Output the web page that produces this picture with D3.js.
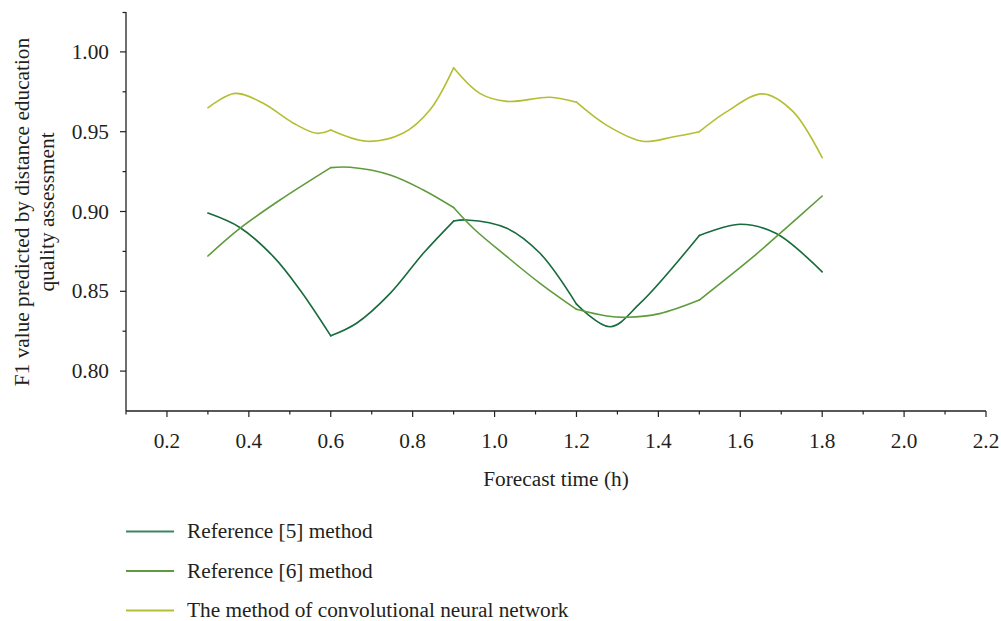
<!DOCTYPE html>
<html>
<head>
<meta charset="utf-8">
<script src="https://cdn.jsdelivr.net/npm/d3@7/dist/d3.min.js"></script>
<style>
  html, body { margin: 0; padding: 0; background: #fff; }
  svg { display: block; }
  text { font-family: "Liberation Serif", "DejaVu Serif", serif; fill: #231f20; font-size: 21.3px; }
</style>
</head>
<body>
<svg id="chart" width="1001" height="621"></svg>
<script>
// Forecast times where each method was evaluated (segment joints)
const knots = [0.3, 0.6, 0.9, 1.2, 1.5, 1.8];

// Sampled F1 values along each fitted curve: [forecast time (h), F1]
const ref5Values = [
  [0.3, 0.899], [0.378, 0.890], [0.46, 0.8717], [0.525, 0.8508], [0.6, 0.8221],
  [0.663, 0.830], [0.745, 0.8487], [0.826, 0.8738], [0.9, 0.894],
  [0.932, 0.8947], [1.03, 0.8895], [1.111, 0.8738], [1.2, 0.8420],
  [1.282, 0.8278], [1.355, 0.8424], [1.5, 0.885],
  [1.599, 0.892], [1.688, 0.8862], [1.8, 0.8622]
];
const ref6Values = [
  [0.3, 0.8721], [0.378, 0.8894], [0.476, 0.9072], [0.6, 0.9275],
  [0.647, 0.9277], [0.745, 0.9229], [0.826, 0.9135], [0.9, 0.9025],
  [0.948, 0.8895], [1.03, 0.8717], [1.111, 0.855], [1.2, 0.8387],
  [1.274, 0.8345], [1.323, 0.8337], [1.403, 0.836], [1.5, 0.8445],
  [1.632, 0.8717], [1.697, 0.8863], [1.8, 0.9097]
];
const cnnValues = [
  [0.3, 0.965], [0.366, 0.974], [0.434, 0.968], [0.508, 0.9555], [0.566, 0.949], [0.6, 0.951],
  [0.688, 0.944], [0.776, 0.949], [0.842, 0.9636], [0.9, 0.990],
  [0.964, 0.974], [1.03, 0.969], [1.135, 0.9716], [1.2, 0.9685],
  [1.274, 0.954], [1.362, 0.944], [1.435, 0.9467], [1.5, 0.950],
  [1.567, 0.9626], [1.655, 0.9737], [1.729, 0.9626], [1.8, 0.9337]
];

const seriesNames = ["Reference [5] method", "Reference [6] method", "The method of convolutional neural network"];
const seriesColors = ["#176b3d", "#5f9b3c", "#b4be33"];
const legendColors = ["#3f8462", "#5f9b3c", "#b4be33"];

const xTicks = [0.2, 0.4, 0.6, 0.8, 1.0, 1.2, 1.4, 1.6, 1.8, 2.0, 2.2];
const yTicks = [0.80, 0.85, 0.90, 0.95, 1.00];
const xLabel = "Forecast time (h)";
const yLabelLines = ["F1 value predicted by distance education", "quality assessment"];

const svg = d3.select("#chart");
const x = d3.scaleLinear().domain([0.1, 2.2]).range([126, 986]);
const y = d3.scaleLinear().domain([0.775, 1.025]).range([411, 12]);

// Axes
const axisColor = "#231f20";
const xAxis = svg.append("g").attr("transform", "translate(0,411)");
xAxis.append("line").attr("x1", 126).attr("x2", 986).attr("stroke", axisColor).attr("stroke-width", 1.3);
d3.range(0.1, 2.2001, 0.1).forEach((t, i) => {
  const major = i % 2 === 1;
  xAxis.append("line").attr("x1", x(t)).attr("x2", x(t)).attr("y1", 0).attr("y2", major ? 6 : 3.5)
    .attr("stroke", axisColor).attr("stroke-width", 1.2);
});
xAxis.selectAll("text.tick").data(xTicks).enter().append("text")
  .attr("x", d => x(d)).attr("y", 37).attr("text-anchor", "middle")
  .text(d => d.toFixed(1));
svg.append("text").attr("x", 556).attr("y", 486).attr("text-anchor", "middle")
  .text(xLabel);

const yAxis = svg.append("g").attr("transform", "translate(126,0)");
yAxis.append("line").attr("y1", 12).attr("y2", 411).attr("stroke", axisColor).attr("stroke-width", 1.3);
d3.range(0, 11).forEach(i => {
  const v = 0.775 + i * 0.025;
  if (i === 0 || i === 10) return;
  const major = i % 2 === 1;
  yAxis.append("line").attr("x1", 0).attr("x2", major ? -6 : -3.5).attr("y1", y(v)).attr("y2", y(v))
    .attr("stroke", axisColor).attr("stroke-width", 1.2);
});
yAxis.append("line").attr("x1", 0).attr("x2", -3.5).attr("y1", 12.5).attr("y2", 12.5)
  .attr("stroke", axisColor).attr("stroke-width", 1.2);
yAxis.selectAll("text.tick").data(yTicks).enter().append("text")
  .attr("x", -17).attr("y", d => y(d) + 7).attr("text-anchor", "end")
  .text(d => d.toFixed(2));

const yTitle = svg.append("text")
  .attr("transform", "translate(0,212) rotate(-90)")
  .attr("text-anchor", "middle");
yLabelLines.forEach((line, i) => {
  yTitle.append("tspan").attr("x", 0).attr("y", 29 + i * 24.5).text(line);
});

// Curves: each interval between evaluation times is drawn as its own smooth piece
const lineGen = d3.line().x(d => x(d[0])).y(d => y(d[1])).curve(d3.curveCatmullRom.alpha(0.5));
[ref5Values, ref6Values, cnnValues].forEach((vals, si) => {
  const g = svg.append("g");
  for (let k = 0; k < knots.length - 1; k++) {
    const a = knots[k], b = knots[k + 1];
    const seg = vals.filter(p => p[0] >= a - 1e-9 && p[0] <= b + 1e-9);
    g.append("path").attr("d", lineGen(seg)).attr("fill", "none")
      .attr("stroke", seriesColors[si]).attr("stroke-width", 1.6)
      .attr("stroke-linejoin", "round").attr("stroke-linecap", "round");
  }
});

// Legend
const legend = svg.append("g");
seriesNames.forEach((name, i) => {
  const ly = 531.5 + i * 39.5;
  legend.append("line").attr("x1", 126).attr("x2", 174).attr("y1", ly).attr("y2", ly)
    .attr("stroke", legendColors[i]).attr("stroke-width", 1.8);
  legend.append("text").attr("x", 187).attr("y", ly + 6.5).text(name);
});
</script>
</body>
</html>
